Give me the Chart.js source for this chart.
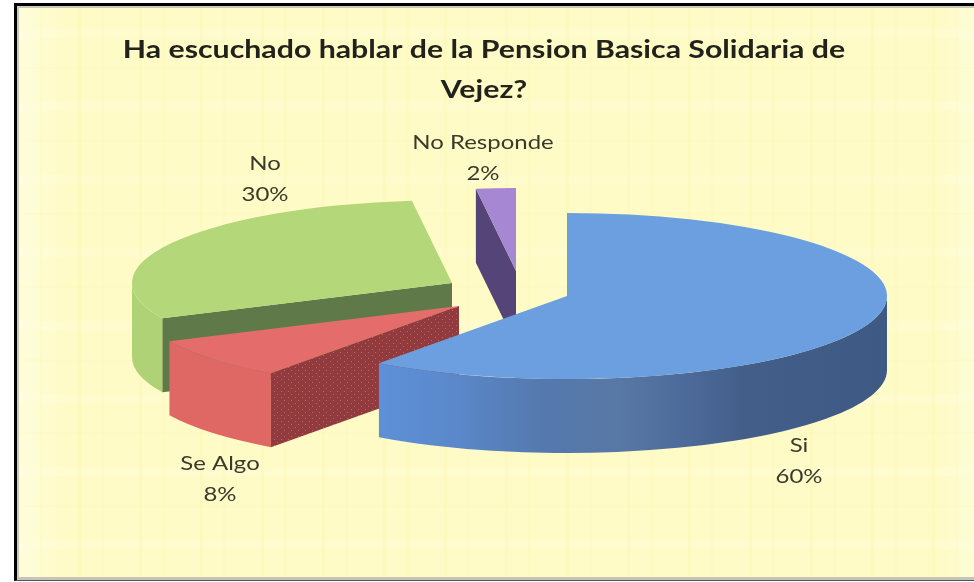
<!DOCTYPE html>
<html>
<head>
<meta charset="utf-8">
<script src="https://cdn.jsdelivr.net/npm/chart.js@4"></script>
<style>
html,body{margin:0;padding:0;background:#fff;width:974px;height:582px;overflow:hidden}
#panel{position:absolute;left:14px;top:3px;width:960px;height:578px;box-sizing:border-box;
 border-left:3px solid #000;border-top:3px solid #000;border-bottom:1px solid #555;
 box-shadow:inset 2px 2px 0 #c9c9bb,inset 0 -3px 0 #c4c4b8;
 background-color:#fefbc6;
 background-image:
  repeating-linear-gradient(90deg,rgba(250,232,130,.12) 0 3px,rgba(255,255,255,0) 3px 23px,rgba(250,232,130,.08) 23px 26px,rgba(255,255,255,0) 26px 61px),
  repeating-linear-gradient(0deg,rgba(250,232,130,.07) 0 2px,rgba(255,255,255,0) 2px 31px,rgba(255,255,240,.18) 31px 40px,rgba(255,255,255,0) 40px 73px),
  linear-gradient(90deg,rgba(255,255,235,.55),rgba(255,255,235,0) 50px,rgba(255,255,235,0) 920px,rgba(255,255,235,.4));}
#wrap{position:absolute;left:0;top:0;width:974px;height:582px}
</style>
</head>
<body>
<div id="panel"></div>
<div id="wrap"><canvas id="c" width="974" height="582"></canvas></div>
<script>
const categories = ["Si", "Se Algo", "No", "No Responde"];
const seriesValues = [60, 8, 30, 2];
const titleLines = ["Ha escuchado hablar de la Pension Basica Solidaria de", "Vejez?"];

// Style and 3D layout, kept apart from the data
const topColors = ["#6c9fdf", "#e46d6b", "#b4d77a", "#a587d3"];
const geom = {
  rx: 320, ry: 83, depth: 74,
  centers: [[567, 296], [459, 306], [452, 283], [516, 271]],
  paintOrder: [3, 2, 1, 0]
};
const labelAnchors = [[799, 446], [220, 463.5], [265, 164], [483, 143]];
const textStretch = 1.262;

function speckle() {
  const t = document.createElement("canvas");
  t.width = 7; t.height = 6;
  const x = t.getContext("2d");
  x.fillStyle = "#923b3e"; x.fillRect(0, 0, 7, 6);
  x.fillStyle = "#c4645f"; x.fillRect(1, 1, 1, 1); x.fillRect(4, 4, 1, 1);
  return t;
}

const pie3d = {
  id: "pie3d",
  afterLayout(chart) {
    // the reference's text is stretched sideways: widen the library's title the same way
    const tb = chart.titleBlock;
    if (!tb || tb._stretched) return;
    tb._stretched = true;
    const original = tb.draw;
    tb.draw = function (area) {
      const ctx = this.ctx, cx = (this.left + this.right) / 2;
      ctx.save();
      ctx.translate(cx, 0);
      ctx.scale(textStretch, 1);
      ctx.translate(-cx, 0);
      original.call(this, area);
      ctx.restore();
    };
  },
  beforeDatasetDraw(chart, args) {
    const ctx = chart.ctx;
    const arcs = chart.getDatasetMeta(args.index).data;
    const { rx, ry, depth } = geom;
    const pt = (c, a, dz = 0) => [c[0] + rx * Math.cos(a), c[1] + ry * Math.sin(a) + dz];
    const quad = (pts, fill) => {
      ctx.beginPath();
      pts.forEach((p, k) => k ? ctx.lineTo(p[0], p[1]) : ctx.moveTo(p[0], p[1]));
      ctx.closePath();
      ctx.fillStyle = fill;
      ctx.fill();
    };
    const rim = (c, a0, a1, fill) => {
      ctx.beginPath();
      ctx.ellipse(c[0], c[1], rx, ry, 0, a0, a1);
      ctx.ellipse(c[0], c[1] + depth, rx, ry, 0, a1, a0, true);
      ctx.closePath();
      ctx.fillStyle = fill;
      ctx.fill();
    };
    const blueRim = ctx.createLinearGradient(379, 0, 887, 0);
    blueRim.addColorStop(0, "#5e90d8");
    blueRim.addColorStop(0.15, "#5a88ca");
    blueRim.addColorStop(0.32, "#5479ae");
    blueRim.addColorStop(0.47, "#5878a5");
    blueRim.addColorStop(0.6, "#4d6b9a");
    blueRim.addColorStop(0.72, "#435e89");
    blueRim.addColorStop(1, "#3e5a84");
    const rimFill = [blueRim, "#df6764", "#afd277", "#5b4a82"];
    const faceFill = [null, ctx.createPattern(speckle(), "repeat"), "#5f7a48", "#544477"];

    geom.paintOrder.forEach(i => {
      const arc = arcs[i];
      const c = geom.centers[i];
      const a0 = arc.startAngle, a1 = arc.endAngle;
      // outer wall: the part of the rim turned towards the viewer
      const v0 = Math.max(a0, 0), v1 = Math.min(a1, Math.PI);
      if (v1 > v0) rim(c, v0, v1, rimFill[i]);
      // cut face at the slice's start angle
      if (faceFill[i]) {
        quad([c, pt(c, a0), pt(c, a0, depth), [c[0], c[1] + depth]], faceFill[i]);
      }
      // top surface: the library's own arc, squashed into an ellipse
      const R = arc.outerRadius;
      ctx.save();
      ctx.translate(c[0], c[1]);
      ctx.scale(rx / R, ry / R);
      ctx.translate(-arc.x, -arc.y);
      arc.draw(ctx);
      ctx.restore();
    });
    return false;
  },
  afterDatasetsDraw(chart) {
    const ctx = chart.ctx;
    const total = seriesValues.reduce((a, b) => a + b, 0);
    ctx.font = "19px Lato";
    ctx.fillStyle = "#3a3a2c";
    ctx.textAlign = "center";
    ctx.textBaseline = "middle";
    categories.forEach((name, i) => {
      const [x, y] = labelAnchors[i];
      ctx.save();
      ctx.translate(x, 0);
      ctx.scale(textStretch, 1);
      ctx.fillText(name, 0, y);
      ctx.fillText(Math.round(seriesValues[i] / total * 100) + "%", 0, y + 31);
      ctx.restore();
    });
  }
};

new Chart(document.getElementById("c"), {
  type: "pie",
  data: {
    labels: categories,
    datasets: [{ data: seriesValues, backgroundColor: topColors, borderWidth: 0 }]
  },
  options: {
    responsive: false,
    animation: false,
    layout: { padding: { right: 6 } },
    plugins: {
      legend: { display: false },
      tooltip: { enabled: false },
      title: {
        display: true,
        text: titleLines,
        color: "#22221c",
        font: { family: "Lato", size: 24, weight: "bold", lineHeight: 1.646 },
        padding: { top: 31, bottom: 10 }
      }
    }
  },
  plugins: [pie3d]
});
</script>
</body>
</html>
